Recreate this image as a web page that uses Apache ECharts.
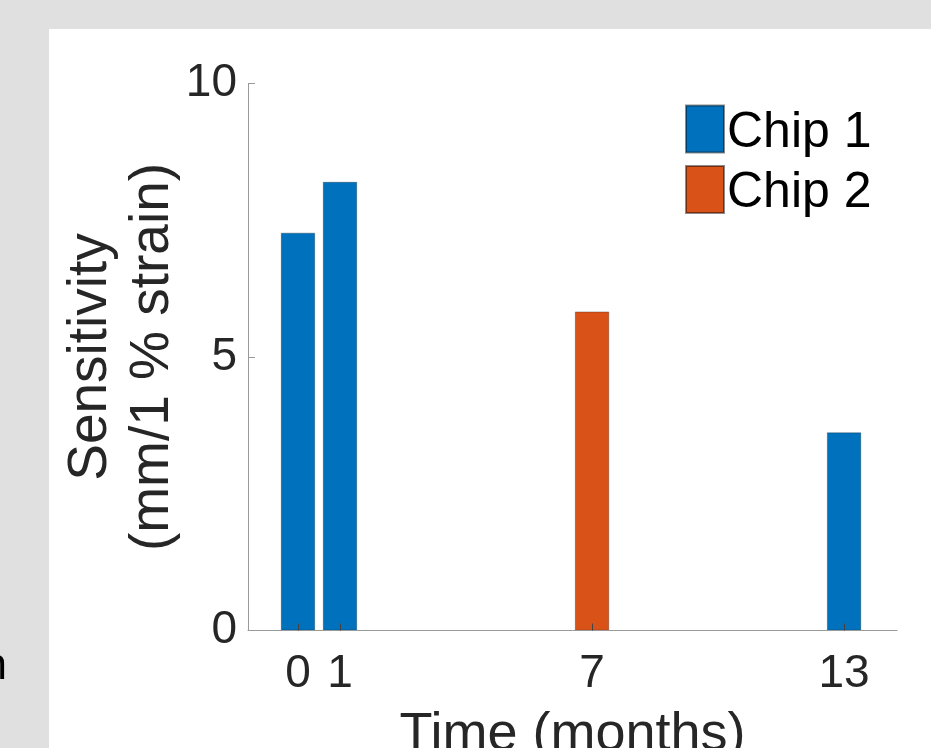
<!DOCTYPE html>
<html>
<head>
<meta charset="utf-8">
<script src="https://cdn.jsdelivr.net/npm/echarts@6/dist/echarts.min.js"></script>
<style>
  html, body { margin: 0; padding: 0; background: #e0e0e0; }
  #main { width: 931px; height: 748px; }
</style>
</head>
<body>
<div id="main"></div>
<script>
// months since start, sensitivity per chip
const chip1Months = [0, 1, 13];
const chip1Values = [7.27, 8.2, 3.62];
const chip2Months = [7];
const chip2Values = [5.83];
const xTicks = [0, 1, 7, 13];
const seriesNames = ['Chip 1', 'Chip 2'];

(function() {
  const chart = echarts.init(document.getElementById('main'));
  const font = '"Liberation Sans", Arial, sans-serif';
  const ink = '#262626';
  const axisGray = '#9a9a9a';

  const pairs = function(xs, ys) {
    return xs.map(function(x, i) { return [x, ys[i]]; });
  };

  const option = {
    backgroundColor: '#e0e0e0',
    animation: false,
    graphic: [
      {
        type: 'rect',
        shape: { x: 49, y: 29, width: 900, height: 740 },
        style: { fill: '#ffffff' },
        z: -10
      },
      {
        type: 'text',
        x: 7,
        y: 689,
        style: {
          text: 'n',
          font: '44px ' + font,
          fill: '#000',
          textAlign: 'right',
          textVerticalAlign: 'bottom'
        }
      }
    ],
    grid: {
      left: 248, right: 34, top: 83.5, bottom: 117.5,
      outerBoundsMode: 'none'
    },
    legend: {
      left: 685,
      top: 104.5,
      padding: 0,
      orient: 'vertical',
      itemWidth: 38,
      itemHeight: 47,
      itemGap: 7,
      icon: 'rect',
      data: seriesNames,
      formatter: function(name) {
        return '{a|' + name + '}';
      },
      textStyle: {
        fontFamily: font,
        fontSize: 50,
        color: '#000',
        rich: {
          a: {
            fontFamily: font,
            fontSize: 50,
            color: '#000',
            padding: [8, 0, 0, -2]
          }
        }
      }
    },
    xAxis: {
      type: 'value',
      min: -1.19,
      max: 14.26,
      z: 5,
      splitLine: { show: false },
      axisLine: { show: true, onZero: false, lineStyle: { color: axisGray, width: 1 } },
      axisTick: {
        show: true,
        inside: true,
        length: 7,
        customValues: xTicks,
        lineStyle: { color: '#444', width: 1 }
      },
      axisLabel: {
        customValues: xTicks,
        margin: 21,
        fontFamily: font,
        fontSize: 46,
        color: ink
      },
      name: 'Time (months)',
      nameLocation: 'middle',
      nameGap: 78,
      nameTextStyle: { fontFamily: font, fontSize: 54, color: ink }
    },
    yAxis: {
      type: 'value',
      min: 0,
      max: 10,
      interval: 5,
      splitLine: { show: false },
      axisLine: { show: true, onZero: false, lineStyle: { color: axisGray, width: 1 } },
      axisTick: { show: true, inside: true, length: 7, lineStyle: { color: axisGray, width: 1 } },
      axisLabel: { margin: 11, fontFamily: font, fontSize: 46, color: ink },
      name: 'Sensitivity\n(mm/1 % strain)',
      nameLocation: 'middle',
      nameMoveOverlap: false,
      nameGap: 64,
      nameTextStyle: { fontFamily: font, fontSize: 55, lineHeight: 62, color: ink }
    },
    series: [
      {
        name: seriesNames[0],
        type: 'bar',
        data: pairs(chip1Months, chip1Values),
        barWidth: 34,
        barGap: '-100%',
        itemStyle: { color: '#0072BD', borderColor: 'rgba(0,0,0,0.45)', borderWidth: 0.6 }
      },
      {
        name: seriesNames[1],
        type: 'bar',
        data: pairs(chip2Months, chip2Values),
        barWidth: 34,
        barGap: '-100%',
        itemStyle: { color: '#D95319', borderColor: 'rgba(0,0,0,0.45)', borderWidth: 0.6 }
      }
    ]
  };
  chart.setOption(option);

  window.onresize = function() {
    chart.resize();
  };
}());
</script>
</body>
</html>
